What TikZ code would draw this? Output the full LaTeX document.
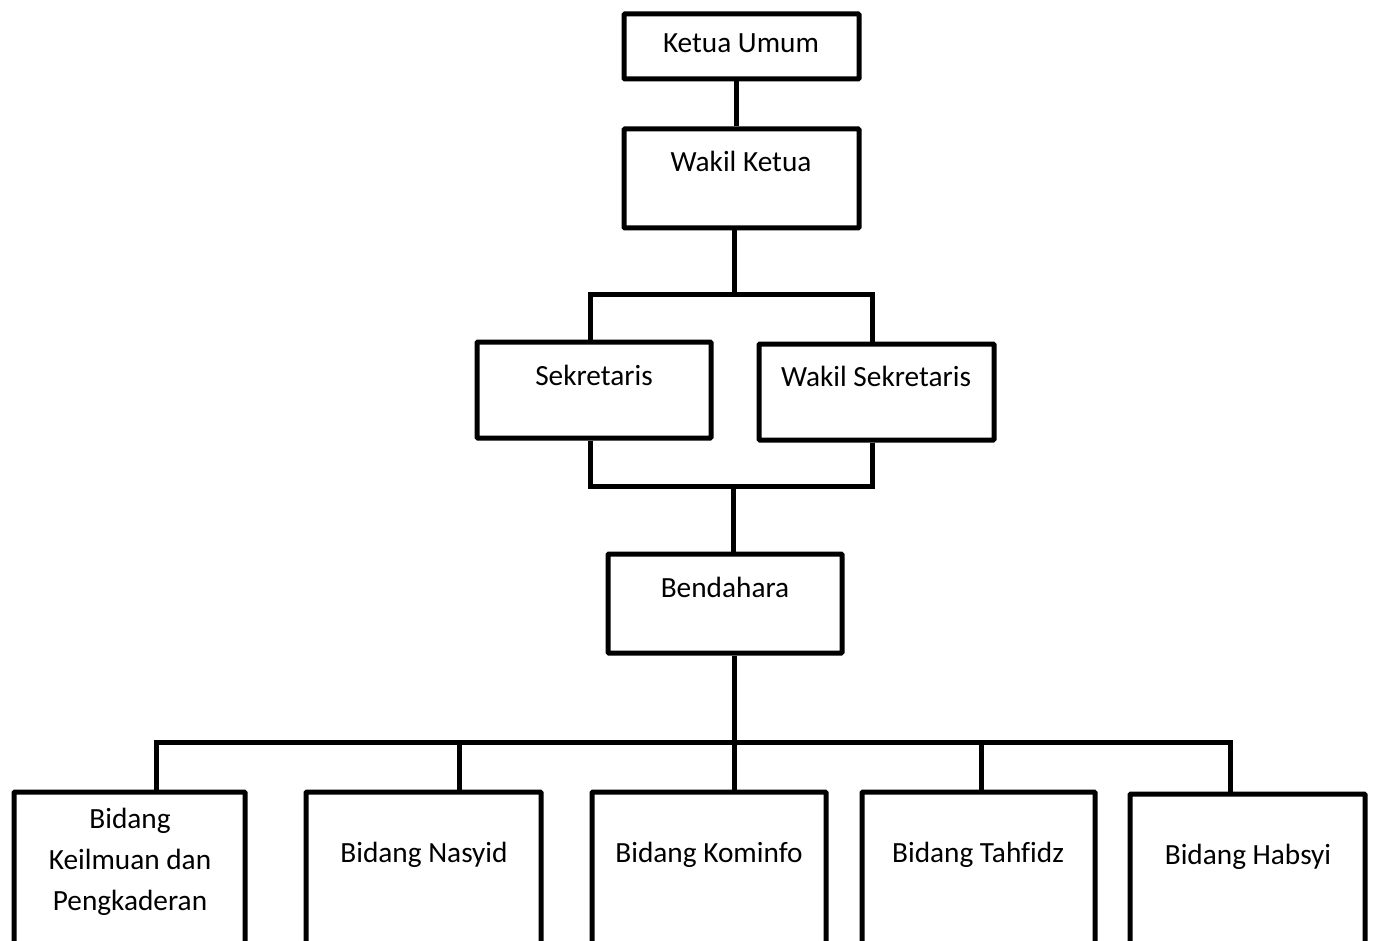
\documentclass[tikz,border=0pt]{standalone}
\usepackage{fontspec}
\setmainfont[Ligatures=NoCommon]{Carlito}
\begin{document}
\begin{tikzpicture}[x=1pt,y=-1pt,
  box/.style={draw=black,line width=5pt,rounded corners=1pt,fill=white},
  lbl/.style={font=\fontsize{29.3}{41}\selectfont,anchor=base,inner sep=0pt,align=center},
  conn/.style={draw=black,line width=5pt,line join=miter}]
\useasboundingbox (0,0) rectangle (1376,941);
\clip (0,0) rectangle (1376,941);
\fill[white] (0,0) rectangle (1376,941);
% boxes
\node[box,inner sep=0pt,minimum width=235pt,minimum height=65pt] (ku) at (741.5,46.5) {};
\node[lbl] (kut) at (741,53) {Ketua Umum};
\node[box,inner sep=0pt,minimum width=235pt,minimum height=99pt] (wk) at (741.5,178.5) {};
\node[lbl] (wkt) at (741,172) {Wakil Ketua};
\node[box,inner sep=0pt,minimum width=234pt,minimum height=96pt] (sek) at (594,390) {};
\node[lbl] (sekt) at (594,385) {Sekretaris};
\node[box,inner sep=0pt,minimum width=235pt,minimum height=96pt] (ws) at (876.5,392) {};
\node[lbl] (wst) at (876,386) {Wakil Sekretaris};
\node[box,inner sep=0pt,minimum width=234pt,minimum height=99pt] (bend) at (725,603.5) {};
\node[lbl] (bendt) at (725,597) {Bendahara};
\node[box,inner sep=0pt,minimum width=231pt,minimum height=200pt] (b1) at (129.5,892) {};
\node[lbl,anchor=center] (b1t) at (130,862) {Bidang\\Keilmuan dan\\Pengkaderan};
\node[box,inner sep=0pt,minimum width=235pt,minimum height=200pt] (b2) at (423.5,892) {};
\node[lbl] (b2t) at (424,862) {Bidang Nasyid};
\node[box,inner sep=0pt,minimum width=234pt,minimum height=200pt] (b3) at (709,892) {};
\node[lbl] (b3t) at (709,862) {Bidang Kominfo};
\node[box,inner sep=0pt,minimum width=233pt,minimum height=200pt] (b4) at (978.5,892) {};
\node[lbl] (b4t) at (978,862) {Bidang Tahfidz};
\node[box,inner sep=0pt,minimum width=235pt,minimum height=200pt] (b5) at (1247.5,894) {};
\node[lbl] (b5t) at (1248,864) {Bidang Habsyi};
% junction coordinates
\coordinate (j0) at (736,0);
\coordinate (s0) at (734,295);
\coordinate (s1) at (590,295);
\coordinate (s2) at (872,295);
\coordinate (t0) at (733,486);
\coordinate (t1) at (590,486);
\coordinate (t2) at (872,486);
\coordinate (u0) at (734,742);
\coordinate (u1) at (156,742);
\coordinate (u2) at (459,742);
\coordinate (u3) at (734,742);
\coordinate (u4) at (981,742);
\coordinate (u5) at (1230,742);
% connectors
\draw[conn] (ku.south -| j0) -- (wk.north -| j0);
\draw[conn] (wk.south -| s0) -- (s0);
\draw[conn] (sek.north -| s1) -- (s1) -- (s2) -- (ws.north -| s2);
\draw[conn] (sek.south -| t1) -- (t1) -- (t2) -- (ws.south -| t2);
\draw[conn] (t0) -- (bend.north -| t0);
\draw[conn] (bend.south -| u0) -- (u0);
\draw[conn] (b1.north -| u1) -- (u1) -- (u5) -- (b5.north -| u5);
\draw[conn] (u2) -- (b2.north -| u2);
\draw[conn] (u3) -- (b3.north -| u3);
\draw[conn] (u4) -- (b4.north -| u4);
\end{tikzpicture}
\end{document}
